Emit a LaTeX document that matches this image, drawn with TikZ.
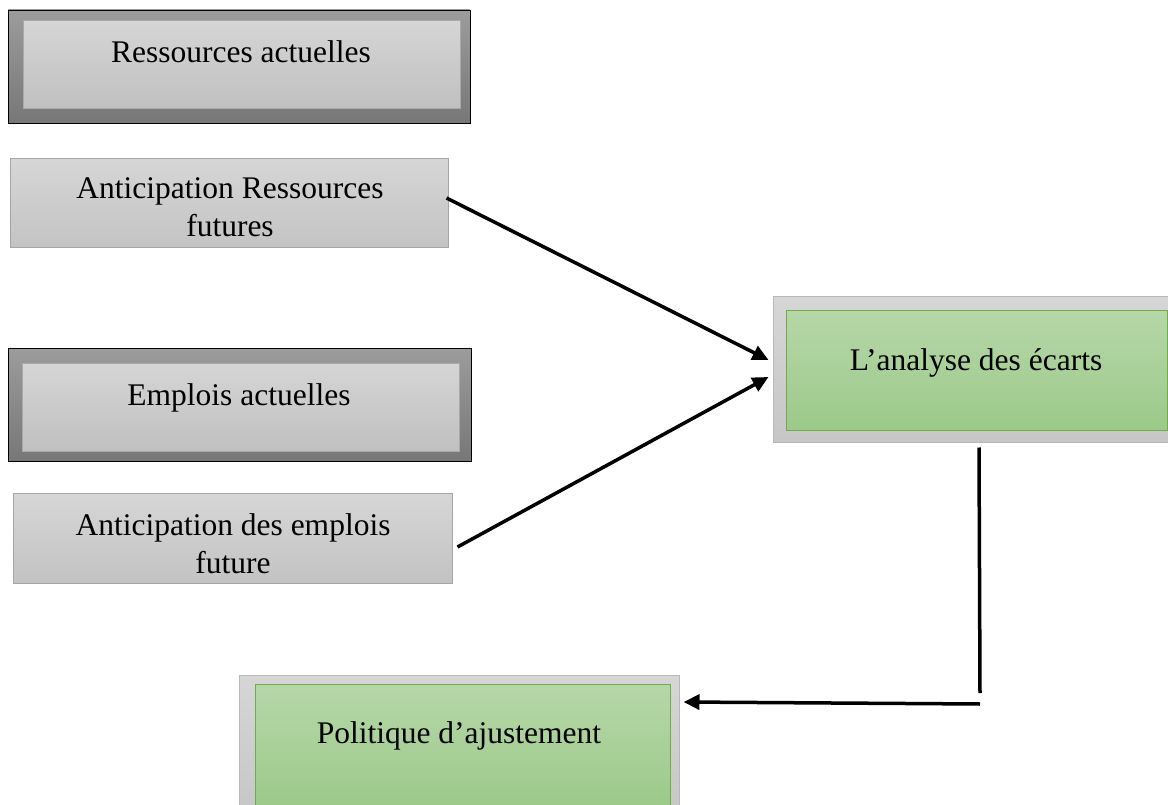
\documentclass[tikz,border=0pt]{standalone}
\usepackage{fontspec}
\setmainfont{Liberation Serif}
\usetikzlibrary{arrows.meta}
\definecolor{frameTop}{HTML}{9C9C9C}
\definecolor{frameBot}{HTML}{777777}
\definecolor{paneTop}{HTML}{D5D5D5}
\definecolor{paneBot}{HTML}{C0C0C0}
\definecolor{paneLine}{HTML}{A9A9A9}
\definecolor{lightTop}{HTML}{D6D6D6}
\definecolor{lightBot}{HTML}{C3C3C3}
\definecolor{lightLine}{HTML}{A6A6A6}
\definecolor{greenTop}{HTML}{B6D7A8}
\definecolor{greenBot}{HTML}{9CC98A}
\definecolor{greenLine}{HTML}{70AD47}
\tikzset{
  darkframe/.style={draw=black, line width=0.8pt, top color=frameTop, bottom color=frameBot, inner sep=0pt},
  innerpane/.style={draw=paneLine, line width=1pt, top color=paneTop, bottom color=paneBot, inner sep=0pt},
  lightbox/.style={draw=lightLine, line width=1pt, top color=lightTop, bottom color=lightBot, inner sep=0pt},
  greyframe/.style={draw=lightLine!80, line width=1pt, top color=lightTop, bottom color=lightBot!95, inner sep=0pt},
  greenpane/.style={draw=greenLine, line width=1pt, top color=greenTop, bottom color=greenBot, inner sep=0pt},
  lbl/.style={font=\fontsize{31.5}{38}\selectfont, align=center, anchor=base, inner sep=0pt},
  conn/.style={line width=3.5pt, -{Triangle[length=16pt,width=15pt]}},
  plainconn/.style={line width=3.5pt}
}
\begin{document}
\begin{tikzpicture}[x=1pt,y=-1pt]
\useasboundingbox (0,0) rectangle (1168,805);
\clip (0,0) rectangle (1168,805);

% current resources
\node[darkframe, minimum width=462pt, minimum height=113pt] (ra) at (239,66.5) {};
\node[innerpane, minimum width=437pt, minimum height=88pt] (rai) at (241.5,65) {};
\node[lbl] (rat) at (241,63) {Ressources actuelles};

% anticipated future resources (base anchor sits on the last line)
\node[lightbox, minimum width=438pt, minimum height=89pt] (af) at (229,203.5) {};
\node[lbl] (aft) at (230,237) {Anticipation Ressources\\futures};

% current jobs
\node[darkframe, minimum width=463pt, minimum height=113pt] (ea) at (239.5,404.5) {};
\node[innerpane, minimum width=437pt, minimum height=88pt] (eai) at (240.5,407) {};
\node[lbl] (eat) at (239,405) {Emplois actuelles};

% anticipated future jobs
\node[lightbox, minimum width=439pt, minimum height=90pt] (ef) at (232.5,538) {};
\node[lbl] (eft) at (233,573) {Anticipation des emplois\\future};

% gap analysis
\node[greyframe, minimum width=395pt, minimum height=145pt] (ec) at (970.5,369.5) {};
\node[greenpane, minimum width=381pt, minimum height=120pt] (eci) at (976.5,370.5) {};
\node[lbl] (ect) at (976,370) {L’analyse des écarts};

% adjustment policy
\node[greyframe, minimum width=440pt, minimum height=145pt] (po) at (459,747.5) {};
\node[greenpane, minimum width=415pt, minimum height=125pt] (poi) at (462.5,746.5) {};
\node[lbl] (pot) at (459,743) {Politique d’ajustement};

% connectors
\draw[conn] ([shift={(-2,-5.5)}]af.east) -- ([shift={(-4,-9.5)}]ec.west);
\draw[conn] ([shift={(5,9)}]ef.east) -- ([shift={(-4,7.5)}]ec.west);
\coordinate (drop) at (980,693);
\coordinate (turn) at (980,704);
\draw[plainconn] ([shift={(8.5,5)}]ec.south) -- (drop);
\draw[conn] (turn) -- ([shift={(4,-45.5)}]po.east);
\end{tikzpicture}
\end{document}
